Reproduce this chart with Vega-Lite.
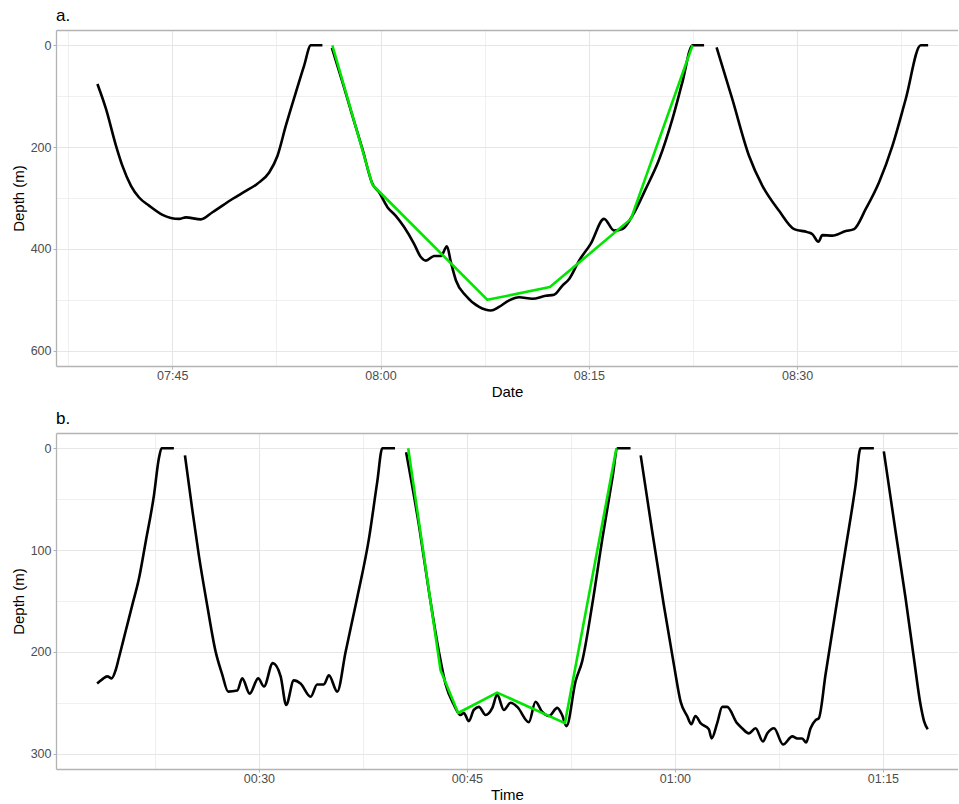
{
  "$schema": "https://vega.github.io/schema/vega-lite/v6.json",
  "padding": {"left": 11, "top": 7, "right": 0, "bottom": 0},
  "spacing": 10,
  "background": "white",
  "config": {
    "view": {"stroke": null},
    "font": "Liberation Sans",
    "axis": {
      "labelFont": "Liberation Sans",
      "labelFontSize": 12.5,
      "labelColor": "#4D4D4D",
      "titleFont": "Liberation Sans",
      "titleFontSize": 15,
      "titleFontWeight": "normal",
      "titleColor": "#000000",
      "tickColor": "#B3B3B3",
      "tickSize": 3,
      "domainColor": "#B3B3B3",
      "domainWidth": 1.3,
      "gridColor": "#E6E6E6",
      "labelFlush": false,
      "labelOverlap": false
    },
    "title": {
      "font": "Liberation Sans",
      "fontSize": 17,
      "fontWeight": "normal",
      "color": "#000000",
      "anchor": "start",
      "frame": "group",
      "offset": 5
    }
  },
  "datasets": {
    "a": [
      {"s": "1", "t": "07:39:37", "d": 76},
      {"s": "1", "t": "07:40:14", "d": 125},
      {"s": "1", "t": "07:40:57", "d": 197},
      {"s": "1", "t": "07:41:25", "d": 237},
      {"s": "1", "t": "07:42:02", "d": 276},
      {"s": "1", "t": "07:42:37", "d": 299},
      {"s": "1", "t": "07:43:20", "d": 315},
      {"s": "1", "t": "07:44:18", "d": 333},
      {"s": "1", "t": "07:45:30", "d": 341},
      {"s": "1", "t": "07:45:59", "d": 338},
      {"s": "1", "t": "07:47:04", "d": 342},
      {"s": "1", "t": "07:47:54", "d": 328},
      {"s": "1", "t": "07:49:20", "d": 302},
      {"s": "1", "t": "07:50:11", "d": 288},
      {"s": "1", "t": "07:51:08", "d": 272},
      {"s": "1", "t": "07:51:59", "d": 250},
      {"s": "1", "t": "07:52:35", "d": 217},
      {"s": "1", "t": "07:53:11", "d": 158},
      {"s": "1", "t": "07:53:54", "d": 93},
      {"s": "1", "t": "07:54:30", "d": 40},
      {"s": "1", "t": "07:54:59", "d": 0},
      {"s": "1", "t": "07:55:49", "d": 0},
      {"s": "2", "t": "07:56:30", "d": 5},
      {"s": "2", "t": "07:57:16", "d": 73},
      {"s": "2", "t": "07:57:59", "d": 139},
      {"s": "2", "t": "07:58:42", "d": 204},
      {"s": "2", "t": "07:59:25", "d": 272},
      {"s": "2", "t": "07:59:54", "d": 289},
      {"s": "2", "t": "08:00:30", "d": 318},
      {"s": "2", "t": "08:01:06", "d": 335},
      {"s": "2", "t": "08:01:42", "d": 357},
      {"s": "2", "t": "08:02:25", "d": 390},
      {"s": "2", "t": "08:02:54", "d": 416},
      {"s": "2", "t": "08:03:16", "d": 423},
      {"s": "2", "t": "08:03:52", "d": 414},
      {"s": "2", "t": "08:04:21", "d": 414},
      {"s": "2", "t": "08:04:47", "d": 395},
      {"s": "2", "t": "08:05:04", "d": 426},
      {"s": "2", "t": "08:05:26", "d": 462},
      {"s": "2", "t": "08:06:09", "d": 492},
      {"s": "2", "t": "08:07:06", "d": 514},
      {"s": "2", "t": "08:07:57", "d": 521},
      {"s": "2", "t": "08:08:32", "d": 514},
      {"s": "2", "t": "08:09:16", "d": 501},
      {"s": "2", "t": "08:09:59", "d": 495},
      {"s": "2", "t": "08:10:56", "d": 498},
      {"s": "2", "t": "08:11:54", "d": 492},
      {"s": "2", "t": "08:12:30", "d": 490},
      {"s": "2", "t": "08:13:06", "d": 472},
      {"s": "2", "t": "08:13:35", "d": 459},
      {"s": "2", "t": "08:14:18", "d": 423},
      {"s": "2", "t": "08:15:08", "d": 390},
      {"s": "2", "t": "08:16:06", "d": 341},
      {"s": "2", "t": "08:16:49", "d": 364},
      {"s": "2", "t": "08:17:25", "d": 361},
      {"s": "2", "t": "08:18:08", "d": 335},
      {"s": "2", "t": "08:19:06", "d": 282},
      {"s": "2", "t": "08:20:04", "d": 224},
      {"s": "2", "t": "08:21:01", "d": 145},
      {"s": "2", "t": "08:21:44", "d": 73},
      {"s": "2", "t": "08:22:28", "d": 0},
      {"s": "2", "t": "08:23:18", "d": 0},
      {"s": "3", "t": "08:24:12", "d": 4},
      {"s": "3", "t": "08:25:20", "d": 106},
      {"s": "3", "t": "08:26:32", "d": 217},
      {"s": "3", "t": "08:27:30", "d": 276},
      {"s": "3", "t": "08:28:42", "d": 325},
      {"s": "3", "t": "08:29:47", "d": 361},
      {"s": "3", "t": "08:30:44", "d": 367},
      {"s": "3", "t": "08:31:06", "d": 371},
      {"s": "3", "t": "08:31:32", "d": 386},
      {"s": "3", "t": "08:31:49", "d": 373},
      {"s": "3", "t": "08:32:32", "d": 374},
      {"s": "3", "t": "08:33:30", "d": 365},
      {"s": "3", "t": "08:34:06", "d": 361},
      {"s": "3", "t": "08:34:56", "d": 322},
      {"s": "3", "t": "08:35:54", "d": 269},
      {"s": "3", "t": "08:36:52", "d": 197},
      {"s": "3", "t": "08:37:49", "d": 106},
      {"s": "3", "t": "08:38:54", "d": 0},
      {"s": "3", "t": "08:39:26", "d": 0},
      {"s": "fit", "t": "07:56:32", "d": 0},
      {"s": "fit", "t": "07:59:25", "d": 274},
      {"s": "fit", "t": "08:07:42", "d": 500},
      {"s": "fit", "t": "08:12:12", "d": 475},
      {"s": "fit", "t": "08:18:02", "d": 341},
      {"s": "fit", "t": "08:22:28", "d": 0}
    ],
    "b": [
      {"s": "1", "t": "00:18:20", "d": 231},
      {"s": "1", "t": "00:18:42", "d": 227},
      {"s": "1", "t": "00:19:04", "d": 224},
      {"s": "1", "t": "00:19:23", "d": 226},
      {"s": "1", "t": "00:19:40", "d": 218},
      {"s": "1", "t": "00:19:54", "d": 206},
      {"s": "1", "t": "00:20:23", "d": 180},
      {"s": "1", "t": "00:20:52", "d": 154},
      {"s": "1", "t": "00:21:21", "d": 128},
      {"s": "1", "t": "00:21:50", "d": 92},
      {"s": "1", "t": "00:22:26", "d": 46},
      {"s": "1", "t": "00:22:47", "d": 10},
      {"s": "1", "t": "00:22:59", "d": 0},
      {"s": "1", "t": "00:23:52", "d": 0},
      {"s": "2", "t": "00:24:40", "d": 7},
      {"s": "2", "t": "00:25:11", "d": 59},
      {"s": "2", "t": "00:25:40", "d": 105},
      {"s": "2", "t": "00:26:16", "d": 154},
      {"s": "2", "t": "00:26:53", "d": 200},
      {"s": "2", "t": "00:27:21", "d": 222},
      {"s": "2", "t": "00:27:47", "d": 239},
      {"s": "2", "t": "00:28:26", "d": 238},
      {"s": "2", "t": "00:28:48", "d": 226},
      {"s": "2", "t": "00:29:20", "d": 241},
      {"s": "2", "t": "00:29:57", "d": 226},
      {"s": "2", "t": "00:30:22", "d": 234},
      {"s": "2", "t": "00:31:00", "d": 211},
      {"s": "2", "t": "00:31:34", "d": 224},
      {"s": "2", "t": "00:31:58", "d": 252},
      {"s": "2", "t": "00:32:31", "d": 228},
      {"s": "2", "t": "00:33:00", "d": 231},
      {"s": "2", "t": "00:33:44", "d": 244},
      {"s": "2", "t": "00:34:12", "d": 232},
      {"s": "2", "t": "00:34:41", "d": 232},
      {"s": "2", "t": "00:35:03", "d": 223},
      {"s": "2", "t": "00:35:39", "d": 239},
      {"s": "2", "t": "00:36:15", "d": 200},
      {"s": "2", "t": "00:37:05", "d": 147},
      {"s": "2", "t": "00:37:56", "d": 89},
      {"s": "2", "t": "00:38:32", "d": 33},
      {"s": "2", "t": "00:38:54", "d": 0},
      {"s": "2", "t": "00:39:49", "d": 0},
      {"s": "3", "t": "00:40:37", "d": 4},
      {"s": "3", "t": "00:41:32", "d": 75},
      {"s": "3", "t": "00:42:16", "d": 141},
      {"s": "3", "t": "00:42:59", "d": 200},
      {"s": "3", "t": "00:43:28", "d": 232},
      {"s": "3", "t": "00:44:04", "d": 252},
      {"s": "3", "t": "00:44:32", "d": 262},
      {"s": "3", "t": "00:44:47", "d": 260},
      {"s": "3", "t": "00:45:08", "d": 268},
      {"s": "3", "t": "00:45:30", "d": 257},
      {"s": "3", "t": "00:45:52", "d": 254},
      {"s": "3", "t": "00:46:21", "d": 262},
      {"s": "3", "t": "00:46:50", "d": 255},
      {"s": "3", "t": "00:47:11", "d": 242},
      {"s": "3", "t": "00:47:40", "d": 257},
      {"s": "3", "t": "00:48:09", "d": 250},
      {"s": "3", "t": "00:48:38", "d": 254},
      {"s": "3", "t": "00:49:28", "d": 269},
      {"s": "3", "t": "00:49:57", "d": 249},
      {"s": "3", "t": "00:50:26", "d": 259},
      {"s": "3", "t": "00:50:55", "d": 263},
      {"s": "3", "t": "00:51:31", "d": 255},
      {"s": "3", "t": "00:51:52", "d": 262},
      {"s": "3", "t": "00:52:11", "d": 273},
      {"s": "3", "t": "00:52:50", "d": 229},
      {"s": "3", "t": "00:53:19", "d": 209},
      {"s": "3", "t": "00:54:02", "d": 154},
      {"s": "3", "t": "00:54:46", "d": 89},
      {"s": "3", "t": "00:55:29", "d": 30},
      {"s": "3", "t": "00:55:52", "d": 0},
      {"s": "3", "t": "00:56:48", "d": 0},
      {"s": "4", "t": "00:57:32", "d": 7},
      {"s": "4", "t": "00:58:22", "d": 82},
      {"s": "4", "t": "00:59:12", "d": 154},
      {"s": "4", "t": "00:59:56", "d": 213},
      {"s": "4", "t": "01:00:25", "d": 249},
      {"s": "4", "t": "01:00:53", "d": 263},
      {"s": "4", "t": "01:01:11", "d": 271},
      {"s": "4", "t": "01:01:29", "d": 263},
      {"s": "4", "t": "01:01:51", "d": 270},
      {"s": "4", "t": "01:02:27", "d": 276},
      {"s": "4", "t": "01:02:39", "d": 285},
      {"s": "4", "t": "01:03:03", "d": 270},
      {"s": "4", "t": "01:03:25", "d": 254},
      {"s": "4", "t": "01:03:46", "d": 254},
      {"s": "4", "t": "01:04:29", "d": 270},
      {"s": "4", "t": "01:04:51", "d": 275},
      {"s": "4", "t": "01:05:20", "d": 280},
      {"s": "4", "t": "01:05:49", "d": 275},
      {"s": "4", "t": "01:06:21", "d": 288},
      {"s": "4", "t": "01:06:40", "d": 280},
      {"s": "4", "t": "01:07:09", "d": 275},
      {"s": "4", "t": "01:07:48", "d": 291},
      {"s": "4", "t": "01:08:28", "d": 283},
      {"s": "4", "t": "01:08:49", "d": 285},
      {"s": "4", "t": "01:09:11", "d": 285},
      {"s": "4", "t": "01:09:28", "d": 289},
      {"s": "4", "t": "01:09:47", "d": 275},
      {"s": "4", "t": "01:10:09", "d": 267},
      {"s": "4", "t": "01:10:23", "d": 265},
      {"s": "4", "t": "01:10:52", "d": 222},
      {"s": "4", "t": "01:11:35", "d": 160},
      {"s": "4", "t": "01:12:19", "d": 98},
      {"s": "4", "t": "01:13:02", "d": 36},
      {"s": "4", "t": "01:13:23", "d": 0},
      {"s": "4", "t": "01:14:21", "d": 0},
      {"s": "5", "t": "01:15:04", "d": 3},
      {"s": "5", "t": "01:15:55", "d": 82},
      {"s": "5", "t": "01:16:38", "d": 147},
      {"s": "5", "t": "01:17:14", "d": 206},
      {"s": "5", "t": "01:17:43", "d": 252},
      {"s": "5", "t": "01:17:58", "d": 268},
      {"s": "5", "t": "01:18:14", "d": 276},
      {"s": "fit", "t": "00:40:46", "d": 0},
      {"s": "fit", "t": "00:43:06", "d": 218},
      {"s": "fit", "t": "00:44:22", "d": 260},
      {"s": "fit", "t": "00:47:11", "d": 240},
      {"s": "fit", "t": "00:52:04", "d": 270},
      {"s": "fit", "t": "00:55:47", "d": 0}
    ]
  },
  "vconcat": [
    {
      "title": {"text": "a."},
      "width": 902,
      "height": 336,
      "data": {"name": "a", "format": {"parse": {"t": "date:'%H:%M:%S'"}}},
      "encoding": {
        "y": {
          "field": "d",
          "type": "quantitative",
          "scale": {"domain": [-30, 630], "reverse": true, "nice": false, "zero": false},
          "axis": {
            "title": "Depth (m)",
            "values": [0, 100, 200, 300, 400, 500, 600],
            "labelExpr": "datum.value % 200 == 0 ? datum.label : ''",
            "tickOpacity": {"condition": {"test": "datum.value % 200 != 0", "value": 0}, "value": 1},
            "gridWidth": {"condition": {"test": "datum.value % 200 != 0", "value": 0.6}, "value": 1.1},
            "labelPadding": 2,
            "titlePadding": 4
          }
        }
      },
      "layer": [
        {
          "transform": [{"filter": "datum.s != 'fit'"}],
          "mark": {"type": "line", "color": "#000000", "strokeWidth": 2.6, "strokeJoin": "round", "interpolate": "monotone"},
          "encoding": {
            "x": {
              "field": "t",
              "type": "temporal",
              "scale": {"domain": [
                {"year": 1900, "month": 1, "date": 1, "hours": 7, "minutes": 36, "seconds": 38},
                {"year": 1900, "month": 1, "date": 1, "hours": 8, "minutes": 41, "seconds": 35}
              ]},
              "axis": {
                "title": "Date",
                "values": [
                  {"year": 1900, "month": 1, "date": 1, "hours": 7, "minutes": 37, "seconds": 30},
                  {"year": 1900, "month": 1, "date": 1, "hours": 7, "minutes": 45, "seconds": 0},
                  {"year": 1900, "month": 1, "date": 1, "hours": 7, "minutes": 52, "seconds": 30},
                  {"year": 1900, "month": 1, "date": 1, "hours": 8, "minutes": 0, "seconds": 0},
                  {"year": 1900, "month": 1, "date": 1, "hours": 8, "minutes": 7, "seconds": 30},
                  {"year": 1900, "month": 1, "date": 1, "hours": 8, "minutes": 15, "seconds": 0},
                  {"year": 1900, "month": 1, "date": 1, "hours": 8, "minutes": 22, "seconds": 30},
                  {"year": 1900, "month": 1, "date": 1, "hours": 8, "minutes": 30, "seconds": 0},
                  {"year": 1900, "month": 1, "date": 1, "hours": 8, "minutes": 37, "seconds": 30}
                ],
                "labelExpr": "seconds(datum.value) == 0 ? timeFormat(datum.value, '%H:%M') : ''",
                "tickOpacity": {"condition": {"test": "seconds(datum.value) != 0", "value": 0}, "value": 1},
                "gridWidth": {"condition": {"test": "seconds(datum.value) != 0", "value": 0.6}, "value": 1.1},
                "labelPadding": 0,
                "titlePadding": 3
              }
            },
            "detail": {"field": "s"}
          }
        },
        {
          "transform": [{"filter": "datum.s == 'fit'"}],
          "mark": {"type": "line", "color": "#00E600", "strokeWidth": 2.6, "strokeJoin": "round"},
          "encoding": {
            "x": {
              "field": "t",
              "type": "temporal",
              "scale": {"domain": [
                {"year": 1900, "month": 1, "date": 1, "hours": 7, "minutes": 36, "seconds": 38},
                {"year": 1900, "month": 1, "date": 1, "hours": 8, "minutes": 41, "seconds": 35}
              ]},
              "axis": {"orient": "top", "labels": false, "ticks": false, "grid": false, "title": null, "domain": true}
            }
          }
        }
      ],
      "resolve": {"axis": {"x": "independent"}}
    },
    {
      "title": {"text": "b."},
      "width": 902,
      "height": 336,
      "data": {"name": "b", "format": {"parse": {"t": "date:'%H:%M:%S'"}}},
      "encoding": {
        "y": {
          "field": "d",
          "type": "quantitative",
          "scale": {"domain": [-15, 315], "reverse": true, "nice": false, "zero": false},
          "axis": {
            "title": "Depth (m)",
            "values": [0, 50, 100, 150, 200, 250, 300],
            "labelExpr": "datum.value % 100 == 0 ? datum.label : ''",
            "tickOpacity": {"condition": {"test": "datum.value % 100 != 0", "value": 0}, "value": 1},
            "gridWidth": {"condition": {"test": "datum.value % 100 != 0", "value": 0.6}, "value": 1.1},
            "labelPadding": 2,
            "titlePadding": 4
          }
        }
      },
      "layer": [
        {
          "transform": [{"filter": "datum.s != 'fit'"}],
          "mark": {"type": "line", "color": "#000000", "strokeWidth": 2.6, "strokeJoin": "round", "interpolate": "monotone"},
          "encoding": {
            "x": {
              "field": "t",
              "type": "temporal",
              "scale": {"domain": [
                {"year": 1900, "month": 1, "date": 1, "hours": 0, "minutes": 15, "seconds": 22},
                {"year": 1900, "month": 1, "date": 1, "hours": 1, "minutes": 20, "seconds": 25}
              ]},
              "axis": {
                "title": "Time",
                "values": [
                  {"year": 1900, "month": 1, "date": 1, "hours": 0, "minutes": 22, "seconds": 30},
                  {"year": 1900, "month": 1, "date": 1, "hours": 0, "minutes": 30, "seconds": 0},
                  {"year": 1900, "month": 1, "date": 1, "hours": 0, "minutes": 37, "seconds": 30},
                  {"year": 1900, "month": 1, "date": 1, "hours": 0, "minutes": 45, "seconds": 0},
                  {"year": 1900, "month": 1, "date": 1, "hours": 0, "minutes": 52, "seconds": 30},
                  {"year": 1900, "month": 1, "date": 1, "hours": 1, "minutes": 0, "seconds": 0},
                  {"year": 1900, "month": 1, "date": 1, "hours": 1, "minutes": 7, "seconds": 30},
                  {"year": 1900, "month": 1, "date": 1, "hours": 1, "minutes": 15, "seconds": 0}
                ],
                "labelExpr": "seconds(datum.value) == 0 ? timeFormat(datum.value, '%H:%M') : ''",
                "tickOpacity": {"condition": {"test": "seconds(datum.value) != 0", "value": 0}, "value": 1},
                "gridWidth": {"condition": {"test": "seconds(datum.value) != 0", "value": 0.6}, "value": 1.1},
                "labelPadding": 0,
                "titlePadding": 3
              }
            },
            "detail": {"field": "s"}
          }
        },
        {
          "transform": [{"filter": "datum.s == 'fit'"}],
          "mark": {"type": "line", "color": "#00E600", "strokeWidth": 2.6, "strokeJoin": "round"},
          "encoding": {
            "x": {
              "field": "t",
              "type": "temporal",
              "scale": {"domain": [
                {"year": 1900, "month": 1, "date": 1, "hours": 0, "minutes": 15, "seconds": 22},
                {"year": 1900, "month": 1, "date": 1, "hours": 1, "minutes": 20, "seconds": 25}
              ]},
              "axis": {"orient": "top", "labels": false, "ticks": false, "grid": false, "title": null, "domain": true}
            }
          }
        }
      ],
      "resolve": {"axis": {"x": "independent"}}
    }
  ]
}
